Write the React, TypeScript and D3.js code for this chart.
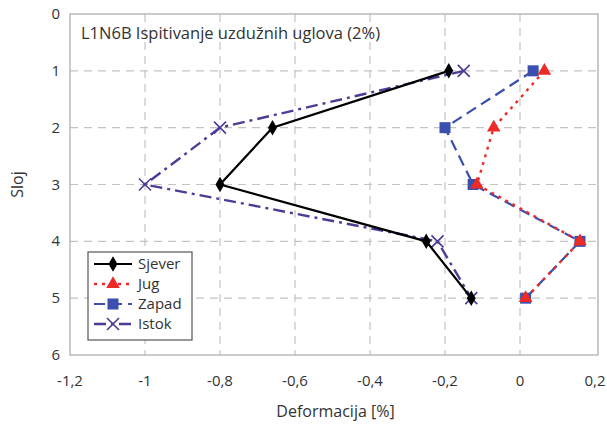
import React, { useRef, useEffect } from "react";
import * as d3 from "d3";

const layers = [1, 2, 3, 4, 5];
const sjever = [-0.19, -0.66, -0.8, -0.25, -0.13];
const jug = [0.065, -0.07, -0.115, 0.16, 0.015];
const zapad = [0.035, -0.2, -0.125, 0.16, 0.015];
const istok = [-0.15, -0.8, -1.0, -0.22, -0.13];
const xTicks = [-1.2, -1, -0.8, -0.6, -0.4, -0.2, 0, 0.2];
const yTicks = [0, 1, 2, 3, 4, 5, 6];

const App: React.FC = () => {
  const svgRef = useRef<SVGSVGElement | null>(null);

  useEffect(() => {
    if (!svgRef.current) return;
    const width = 607;
    const height = 428;
    const svg = d3.select(svgRef.current);
    svg.selectAll("*").remove();

    const margin = { top: 14, right: 12, bottom: 73, left: 70 };
    const innerHeight = height - margin.top - margin.bottom;
    const font = "'Open Sans', 'Noto Sans', sans-serif";

    const x = d3.scaleLinear().domain([-1.2, 0.2]).range([0, 525]);
    const y = d3.scaleLinear().domain([0, 6]).range([0, innerHeight]);

    const g = svg
      .append("g")
      .attr("transform", `translate(${margin.left},${margin.top})`);

    // rejilla
    g.selectAll(".vgrid")
      .data(xTicks.slice(1, -1))
      .enter()
      .append("line")
      .attr("x1", (d) => x(d))
      .attr("x2", (d) => x(d))
      .attr("y1", 0)
      .attr("y2", innerHeight)
      .attr("stroke", "#c4c4c4")
      .attr("stroke-width", 1.2)
      .attr("stroke-dasharray", "8,6");

    g.selectAll(".hgrid")
      .data(yTicks.slice(1, -1))
      .enter()
      .append("line")
      .attr("x1", 0)
      .attr("x2", x(0.2) + 3)
      .attr("y1", (d) => y(d))
      .attr("y2", (d) => y(d))
      .attr("stroke", "#c4c4c4")
      .attr("stroke-width", 1.2)
      .attr("stroke-dasharray", "8,6");

    // borde
    g.append("rect")
      .attr("x", 0)
      .attr("y", 0)
      .attr("width", x(0.2) + 3)
      .attr("height", innerHeight)
      .attr("fill", "none")
      .attr("stroke", "#a8a8a8")
      .attr("stroke-width", 1.2);

    // etiquetas de ejes
    g.selectAll(".xt")
      .data(xTicks)
      .enter()
      .append("text")
      .attr("x", (d) => x(d))
      .attr("y", innerHeight + 31)
      .attr("text-anchor", "middle")
      .attr("font-family", font)
      .attr("font-size", 15)
      .attr("fill", "#333")
      .text((d) => String(d).replace(".", ","));

    g.selectAll(".yt")
      .data(yTicks)
      .enter()
      .append("text")
      .attr("x", -10)
      .attr("y", (d) => y(d) + 5)
      .attr("text-anchor", "end")
      .attr("font-family", font)
      .attr("font-size", 15)
      .attr("fill", "#333")
      .text((d) => String(d));

    svg
      .append("text")
      .attr("transform", `translate(23,${margin.top + innerHeight / 2}) rotate(-90)`)
      .attr("text-anchor", "middle")
      .attr("font-family", font)
      .attr("font-size", 16)
      .attr("fill", "#333")
      .text("Sloj");

    svg
      .append("text")
      .attr("x", margin.left + x(-0.5) + 3)
      .attr("y", 417)
      .attr("text-anchor", "middle")
      .attr("font-family", font)
      .attr("font-size", 16)
      .attr("fill", "#333")
      .text("Deformacija [%]");

    g.append("text")
      .attr("x", 11)
      .attr("y", 25)
      .attr("font-family", font)
      .attr("font-size", 16.5)
      .attr("fill", "#333")
      .text("L1N6B Ispitivanje uzdužnih uglova (2%)");

    const series = [
      { name: "Sjever", values: sjever, color: "#000000", dash: "", marker: "diamond", width: 2.2 },
      { name: "Jug", values: jug, color: "#ec2a26", dash: "3,5", marker: "triangle", width: 2.4 },
      { name: "Zapad", values: zapad, color: "#3a4fae", dash: "11,6", marker: "square", width: 2.2 },
      { name: "Istok", values: istok, color: "#4a3d96", dash: "12,5,3,5", marker: "x", width: 2.4 },
    ];

    const drawMarker = (
      sel: d3.Selection<SVGGElement, unknown, null, undefined>,
      marker: string,
      color: string,
      cx: number,
      cy: number
    ) => {
      if (marker === "diamond") {
        sel.append("path")
          .attr("d", d3.symbol().type(d3.symbolDiamond).size(70)())
          .attr("transform", `translate(${cx},${cy})`)
          .attr("fill", color);
      } else if (marker === "triangle") {
        sel.append("path")
          .attr("d", d3.symbol().type(d3.symbolTriangle).size(80)())
          .attr("transform", `translate(${cx},${cy})`)
          .attr("fill", color);
      } else if (marker === "square") {
        sel.append("rect")
          .attr("x", cx - 5.5)
          .attr("y", cy - 5.5)
          .attr("width", 11)
          .attr("height", 11)
          .attr("fill", color);
      } else {
        sel.append("path")
          .attr("d", `M${cx - 6},${cy - 6}L${cx + 6},${cy + 6}M${cx - 6},${cy + 6}L${cx + 6},${cy - 6}`)
          .attr("stroke", color)
          .attr("stroke-width", 1.6);
      }
    };

    const line = d3
      .line<number>()
      .x((d) => x(d))
      .y((_, i) => y(layers[i]));

    // orden de dibujo: Zapad, Jug, Istok, Sjever
    const order = [2, 1, 3, 0];
    order.forEach((idx) => {
      const s = series[idx];
      g.append("path")
        .datum(s.values)
        .attr("fill", "none")
        .attr("stroke", s.color)
        .attr("stroke-width", s.width)
        .attr("stroke-dasharray", s.dash || null)
        .attr("d", line);
      const mg = g.append("g");
      s.values.forEach((v, i) => drawMarker(mg, s.marker, s.color, x(v), y(layers[i])));
    });

    // leyenda
    const legend = g.append("g").attr("transform", `translate(18,238)`);
    legend
      .append("rect")
      .attr("x", 0)
      .attr("y", 0)
      .attr("width", 104)
      .attr("height", 88)
      .attr("fill", "white")
      .attr("stroke", "#555")
      .attr("stroke-width", 1.2);

    series.forEach((s, i) => {
      const ly = 12 + i * 20;
      legend.append("line")
        .attr("x1", 6)
        .attr("x2", 44)
        .attr("y1", ly)
        .attr("y2", ly)
        .attr("stroke", s.color)
        .attr("stroke-width", s.width)
        .attr("stroke-dasharray", s.dash || null);
      drawMarker(legend, s.marker, s.color, 25, ly);
      legend.append("text")
        .attr("x", 50)
        .attr("y", ly + 5)
        .attr("font-family", font)
        .attr("font-size", 15)
        .attr("fill", "#333")
        .text(s.name);
    });
  }, []);

  return (
    <svg
      ref={svgRef}
      width={607}
      height={428}
      style={{ position: "absolute", left: 0, top: 0, background: "white" }}
    ></svg>
  );
};

export default App;
